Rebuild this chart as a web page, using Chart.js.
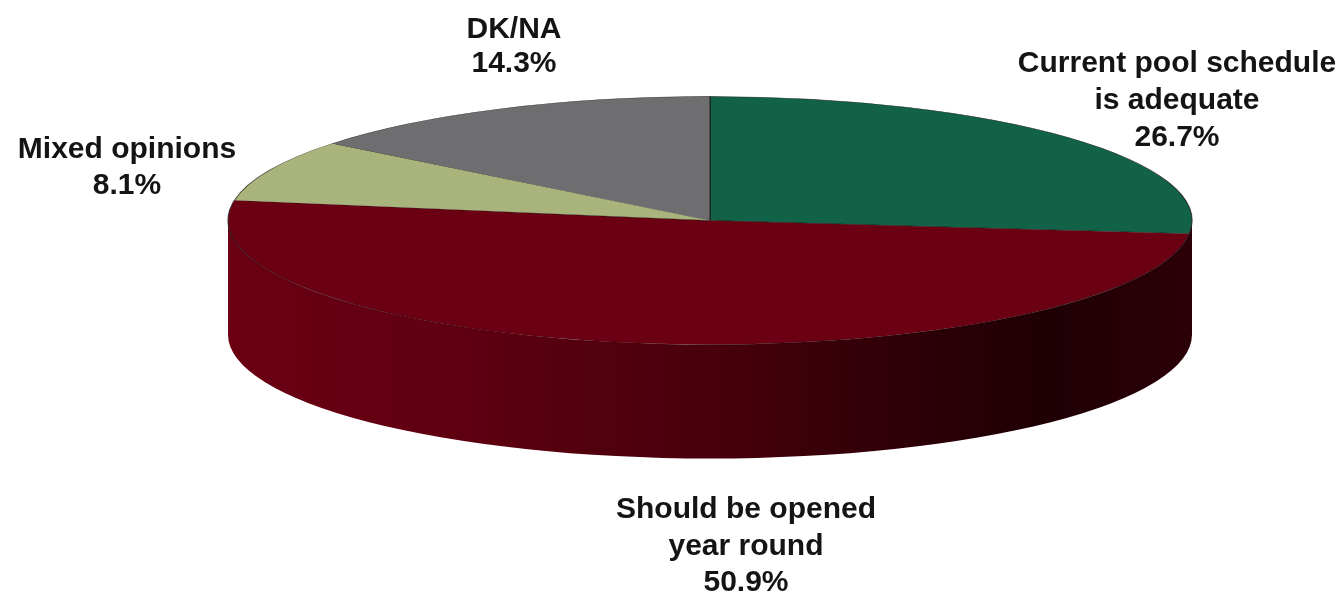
<!DOCTYPE html>
<html><head><meta charset="utf-8">
<style>html,body{margin:0;padding:0;background:#fff;overflow:hidden}#w{position:relative;width:1342px;height:592px}</style>
<script src="https://cdn.jsdelivr.net/npm/chart.js@4"></script>
</head><body><div id="w"><canvas id="c" width="1342" height="592"></canvas></div>
<script>
const categories = ["Current pool schedule\nis adequate", "Should be opened\nyear round", "Mixed opinions", "DK/NA"];
const values = [26.7, 50.9, 8.1, 14.3];
const sliceColors = ["#116246", "#6a0012", "#a8b47c", "#6e6d70"];
const labelAnchors = [[1177, 64], [746, 510], [127, 150], [514, 30]];
const labelLineHeights = [37, 36.5, 36, 34];

const squash = 124 / 482, depth = 114;

function wallGradient(ctx) {
  const g = ctx.createLinearGradient(228, 0, 1192, 0);
  g.addColorStop(0, "#6a0012");
  g.addColorStop(0.25, "#5e0010");
  g.addColorStop(0.5, "#48000c");
  g.addColorStop(0.72, "#2c0007");
  g.addColorStop(0.85, "#1e0005");
  g.addColorStop(1, "#2c0008");
  return g;
}

const pie3d = {
  id: "pie3d",
  beforeDatasetsDraw(chart) {
    const ctx = chart.ctx, area = chart.chartArea;
    const cy = (area.top + area.bottom) / 2;
    const arc = chart.getDatasetMeta(0).data[0];
    const rx = arc.outerRadius, ry = rx * squash;
    ctx.save();
    ctx.beginPath();
    ctx.ellipse(arc.x, cy, rx, ry, 0, 0, Math.PI);
    ctx.ellipse(arc.x, cy + depth, rx, ry, 0, Math.PI, 0, true);
    ctx.closePath();
    ctx.fillStyle = wallGradient(ctx);
    ctx.fill();
    ctx.restore();
    ctx.save();
    ctx.translate(0, cy);
    ctx.scale(1, squash);
    ctx.translate(0, -cy);
  },
  afterDatasetsDraw(chart) {
    const ctx = chart.ctx;
    ctx.restore();
    ctx.save();
    ctx.fillStyle = "#141414";
    ctx.font = "bold 30px 'Liberation Sans', Arial, sans-serif";
    ctx.textAlign = "center";
    ctx.textBaseline = "middle";
    categories.forEach((name, i) => {
      const lines = name.split("\n").concat(values[i].toFixed(1) + "%");
      lines.forEach((t, j) => ctx.fillText(t, labelAnchors[i][0], labelAnchors[i][1] + j * labelLineHeights[i]));
    });
    ctx.restore();
  }
};

new Chart(document.getElementById("c"), {
  type: "pie",
  data: {
    labels: categories,
    datasets: [{
      data: values,
      backgroundColor: sliceColors,
      borderColor: "rgba(30,20,20,0.75)",
      borderWidth: 1.2,
      borderAlign: "center",
      clip: false
    }]
  },
  options: {
    responsive: false,
    animation: false,
    radius: 482,
    layout: { padding: { left: 78, bottom: 151 } },
    plugins: { legend: { display: false }, tooltip: { enabled: false }, title: { display: false } }
  },
  plugins: [pie3d]
});
</script></body></html>
